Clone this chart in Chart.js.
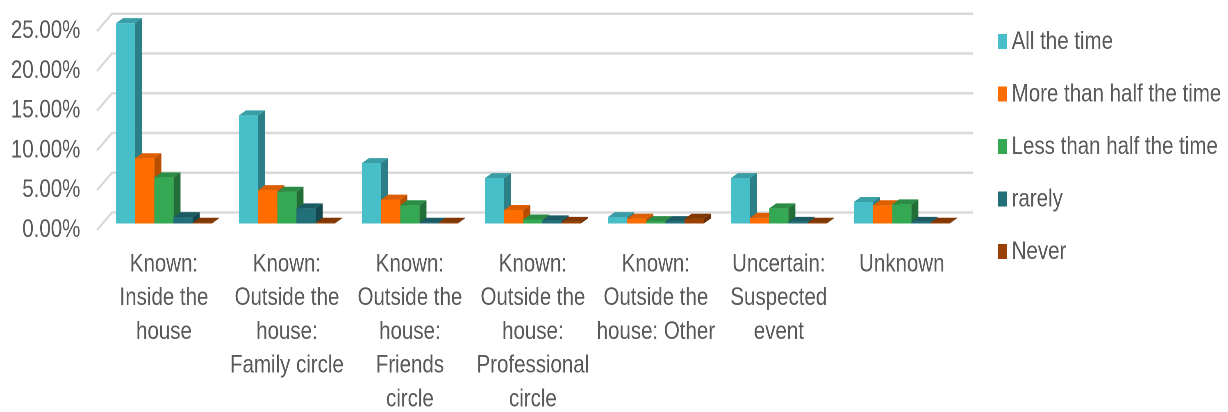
<!DOCTYPE html>
<html>
<head>
<meta charset="utf-8">
<script src="https://cdn.jsdelivr.net/npm/chart.js@4/dist/chart.umd.min.js"></script>
<style>
    html, body { margin: 0; padding: 0; background: #ffffff; overflow: hidden; }
    /* chart is laid out wide, then squeezed to get narrow Arial-like text */
    #wrap { width: 1498px; height: 412px; transform: scaleX(0.8198); transform-origin: 0 0; }
</style>
</head>
<body>
<div id="wrap"><canvas id="chart"></canvas></div>
<script>
const categories = [
    ["Known:", "Inside the", "house"],
    ["Known:", "Outside the", "house:", "Family circle"],
    ["Known:", "Outside the", "house:", "Friends", "circle"],
    ["Known:", "Outside the", "house:", "Professional", "circle"],
    ["Known:", "Outside the", "house: Other"],
    ["Uncertain:", "Suspected", "event"],
    ["Unknown"]
];
const seriesNames = ["All the time", "More than half the time", "Less than half the time", "rarely", "Never"];

// share of cases, in percent
const allTheTime = [25.2, 13.6, 7.6, 5.7, 0.8, 5.7, 2.7];
const moreThanHalf = [8.2, 4.2, 3.0, 1.7, 0.6, 0.7, 2.3];
const lessThanHalf = [5.8, 4.0, 2.3, 0.5, 0.3, 1.9, 2.4];
const rarely = [0.8, 1.9, 0.1, 0.4, 0.3, 0.2, 0.2];
const never = [0.1, 0.1, 0.1, 0.2, 0.6, 0.1, 0.1];

const yTicks = [0, 5, 10, 15, 20, 25];

// front / top / side shades for each series
const shades = [
    { front: '#48bec8', top: '#3a9ea7', side: '#2c7f87' },
    { front: '#ff6d00', top: '#dd5e00', side: '#b94e00' },
    { front: '#34a853', top: '#2b8c45', side: '#216f37' },
    { front: '#216f78', top: '#1b5c64', side: '#14484e' },
    { front: '#9a4002', top: '#823600', side: '#682b00' }
];

const W = 1498, H = 412;
const FONT = "'Liberation Sans', Arial, sans-serif";
const TEXT = '#595959';
const BAR_DEPTH = { dx: 8.5, dy: -5 };
const WALL_BACK = { dx: 11.6, dy: -11 };
const WALL_FRONT = { dx: -6.7, dy: 6.5 };

const threeD = {
    id: 'threeD',
    beforeDatasetsDraw(chart) {
        const { ctx, chartArea, scales } = chart;
        ctx.save();
        ctx.strokeStyle = '#d9d9d9';
        ctx.lineWidth = 2.5;
        yTicks.forEach(v => {
            const y = scales.y.getPixelForValue(v);
            ctx.beginPath();
            ctx.moveTo(chartArea.left + WALL_FRONT.dx, y + WALL_FRONT.dy);
            ctx.lineTo(chartArea.left + WALL_BACK.dx, y + WALL_BACK.dy);
            ctx.lineTo(chartArea.right + WALL_BACK.dx, y + WALL_BACK.dy);
            ctx.stroke();
        });
        ctx.restore();
    },
    afterDatasetsDraw(chart) {
        const ctx = chart.ctx;
        const { dx, dy } = BAR_DEPTH;
        ctx.save();
        // left to right inside every group so the next bar hides the side face
        for (let j = 0; j < categories.length; j++) {
            chart.data.datasets.forEach((ds, i) => {
                const bar = chart.getDatasetMeta(i).data[j];
                const l = bar.x - bar.width / 2;
                const r = bar.x + bar.width / 2;
                const top = bar.y;
                const base = bar.base;
                const c = shades[i];

                ctx.fillStyle = c.front;
                ctx.fillRect(l, top, r - l, base - top);

                ctx.fillStyle = c.top;
                ctx.beginPath();
                ctx.moveTo(l, top);
                ctx.lineTo(r, top);
                ctx.lineTo(r + dx, top + dy);
                ctx.lineTo(l + dx, top + dy);
                ctx.closePath();
                ctx.fill();

                ctx.fillStyle = c.side;
                ctx.beginPath();
                ctx.moveTo(r, top);
                ctx.lineTo(r + dx, top + dy);
                ctx.lineTo(r + dx, base + dy);
                ctx.lineTo(r, base);
                ctx.closePath();
                ctx.fill();
            });
        }
        ctx.restore();
    },
    afterDraw(chart) {
        const ctx = chart.ctx;
        ctx.save();
        ctx.font = '25px ' + FONT;
        ctx.textBaseline = 'middle';
        chart.data.datasets.forEach((ds, i) => {
            const cy = 42 + i * 52.5;
            ctx.fillStyle = shades[i].front;
            ctx.fillRect(1217, cy - 8, 11, 15);
            ctx.fillStyle = TEXT;
            ctx.fillText(ds.label, 1234, cy);
        });
        ctx.restore();
    }
};

const seriesData = [allTheTime, moreThanHalf, lessThanHalf, rarely, never];

const canvas = document.getElementById('chart');
canvas.width = W;
canvas.height = H;

new Chart(canvas, {
    type: 'bar',
    data: {
        labels: categories,
        datasets: seriesNames.map((name, i) => ({
            label: name,
            data: seriesData[i],
            backgroundColor: shades[i].front,
            borderWidth: 0,
            categoryPercentage: 0.78,
            barPercentage: 1
        }))
    },
    options: {
        responsive: false,
        animation: false,
        devicePixelRatio: 2,
        layout: { padding: { left: 0, right: 323, top: 24.75, bottom: 0 } },
        plugins: {
            legend: { display: false },
            tooltip: { enabled: false }
        },
        scales: {
            x: {
                grid: { display: false, drawTicks: false },
                border: { display: false },
                ticks: {
                    autoSkip: false,
                    maxRotation: 0,
                    padding: 24,
                    color: TEXT,
                    font: { family: FONT, size: 25, lineHeight: 1.35 }
                },
                afterFit(scale) {
                    scale.height = 188.5;
                    scale.paddingLeft = 0;
                    scale.paddingRight = 0;
                }
            },
            y: {
                min: 0,
                max: 25,
                grid: { display: false, drawTicks: false },
                border: { display: false },
                ticks: {
                    stepSize: 5,
                    padding: 27,
                    labelOffset: WALL_FRONT.dy,
                    color: TEXT,
                    font: { family: FONT, size: 25 },
                    callback: v => v.toFixed(2) + '%'
                },
                afterFit(scale) {
                    scale.width = 125;
                    scale.paddingTop = 0;
                    scale.paddingBottom = 0;
                }
            }
        }
    },
    plugins: [threeD]
});
</script>
</body>
</html>
